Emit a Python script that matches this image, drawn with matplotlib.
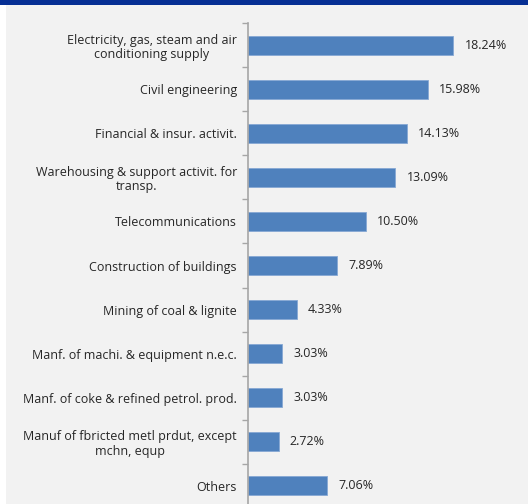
import matplotlib
matplotlib.use("Agg")
import matplotlib.pyplot as plt
from matplotlib.patches import Rectangle
import numpy as np

categories = [
    "Electricity, gas, steam and air\nconditioning supply",
    "Civil engineering",
    "Financial & insur. activit.",
    "Warehousing & support activit. for\ntransp.",
    "Telecommunications",
    "Construction of buildings",
    "Mining of coal & lignite",
    "Manf. of machi. & equipment n.e.c.",
    "Manf. of coke & refined petrol. prod.",
    "Manuf of fbricted metl prdut, except\nmchn, equp",
    "Others",
]
shares = [18.24, 15.98, 14.13, 13.09, 10.50, 7.89, 4.33, 3.03, 3.03, 2.72, 7.06]
value_labels = ["18.24%", "15.98%", "14.13%", "13.09%", "10.50%", "7.89%",
                "4.33%", "3.03%", "3.03%", "2.72%", "7.06%"]

W, H = 528, 504
fig = plt.figure(figsize=(W / 100, H / 100), dpi=100)
fig.patch.set_facecolor("#f2f2f2")

# page strip on the left and title band on top
fig.patches.append(Rectangle((0, 0), 6 / W, 1, transform=fig.transFigure,
                             facecolor="white", edgecolor="none", zorder=0))
fig.patches.append(Rectangle((0, 1 - 5 / H), 1, 5 / H, transform=fig.transFigure,
                             facecolor="#062f94", edgecolor="none", zorder=0))

left, right = 248, 518
top, bottom = 23, 508
ax = fig.add_axes([left / W, 1 - bottom / H, (right - left) / W, (bottom - top) / H])
ax.set_facecolor("none")

n = len(categories)
y = np.arange(n)
ax.barh(y, shares, height=0.43, color="#4f81bd", edgecolor="#86a8d4", linewidth=0.6)
ax.set_xlim(0, 24)
ax.set_ylim(n - 0.5, -0.5)

font = "Open Sans"
for yi, v, lab in zip(y, shares, value_labels):
    ax.text(v + 1.0, yi, lab, va="center", ha="left", fontsize=9,
            family=font, color="#262626")

ax.set_yticks(y)
ax.set_yticklabels(categories, fontsize=9, family=font, color="#262626",
                   multialignment="center", linespacing=1.15)
ax.tick_params(axis="y", which="major", length=0, pad=8)
ax.set_yticks(np.arange(-0.5, n, 1.0), minor=True)
ax.tick_params(axis="y", which="minor", length=4, width=1, color="#a6a6a6")
ax.set_xticks([])

for s in ["top", "right", "bottom"]:
    ax.spines[s].set_visible(False)
ax.spines["left"].set_color("#a6a6a6")
ax.spines["left"].set_linewidth(1.2)

fig.savefig("out.png", dpi=100, facecolor=fig.get_facecolor())
